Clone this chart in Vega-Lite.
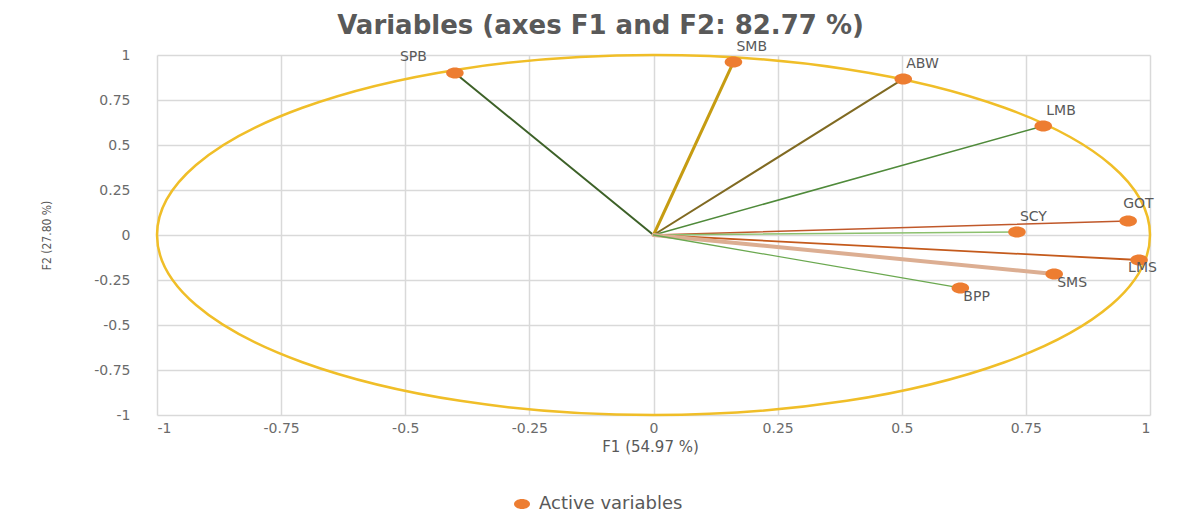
{
  "$schema": "https://vega.github.io/schema/vega-lite/v6.json",
  "autosize": {"type": "none"},
  "width": 993,
  "height": 360,
  "padding": {"left": 157, "top": 55, "right": 51, "bottom": 104},
  "background": "white",
  "title": {
    "text": "Variables (axes F1 and F2: 82.77 %)",
    "anchor": "middle",
    "frame": "group",
    "dx": -53,
    "offset": 1,
    "font": "DejaVu Sans",
    "fontSize": 26,
    "fontWeight": "bold",
    "color": "#595959"
  },
  "config": {
    "view": {"stroke": null},
    "axis": {
      "grid": true,
      "gridColor": "#d9d9d9",
      "gridWidth": 1.5,
      "domain": false,
      "ticks": false,
      "labelFont": "DejaVu Sans",
      "labelFontSize": 14,
      "labelColor": "#6b6b6b",
      "titleFontWeight": "normal",
      "titleColor": "#595959"
    }
  },
  "datasets": {
    "vars": [
      {"label": "SPB", "F1": -0.40, "F2": 0.90},
      {"label": "SMB", "F1": 0.161, "F2": 0.961},
      {"label": "ABW", "F1": 0.503, "F2": 0.867},
      {"label": "LMB", "F1": 0.785, "F2": 0.606},
      {"label": "GOT", "F1": 0.956, "F2": 0.078},
      {"label": "SCY", "F1": 0.732, "F2": 0.017},
      {"label": "LMS", "F1": 0.978, "F2": -0.139},
      {"label": "SMS", "F1": 0.807, "F2": -0.217},
      {"label": "BPP", "F1": 0.618, "F2": -0.294}
    ]
  },
  "data": {"name": "vars"},
  "layer": [
    {
      "mark": {"type": "rule", "strokeCap": "round"},
      "encoding": {
        "x": {
          "field": "F1", "type": "quantitative",
          "scale": {"domain": [-1, 1], "nice": false, "zero": false},
          "axis": {
            "values": [-1, -0.75, -0.5, -0.25, 0, 0.25, 0.5, 0.75, 1],
            "labelExpr": "'' + datum.value",
            "labelPadding": 6,
            "title": "F1 (54.97 %)",
            "titleFont": "DejaVu Sans",
            "titleFontSize": 15,
            "titleX": 493,
            "titleY": 31,
            "titleBaseline": "middle"
          }
        },
        "y": {
          "field": "F2", "type": "quantitative",
          "scale": {"domain": [-1, 1], "nice": false, "zero": false},
          "axis": {
            "values": [-1, -0.75, -0.5, -0.25, 0, 0.25, 0.5, 0.75, 1],
            "labelExpr": "'' + datum.value",
            "labelPadding": 27,
            "title": "F2 (27.80 %)",
            "titleFont": "DejaVu Sans Condensed",
            "titleFontSize": 12,
            "titleX": -111,
            "titleY": 180,
            "titleAngle": -90,
            "titleBaseline": "middle",
            "titleAlign": "center"
          }
        },
        "x2": {"datum": 0},
        "y2": {"datum": 0},
        "color": {
          "field": "label", "type": "nominal",
          "scale": {
            "domain": ["SPB", "SMB", "ABW", "LMB", "GOT", "SCY", "LMS", "SMS", "BPP"],
            "range": ["#3d6128", "#c69c12", "#806a22", "#4f8a3a", "#c0582a", "#8cc06e", "#c45a1c", "#dcae92", "#6aa84f"]
          },
          "legend": null
        },
        "strokeWidth": {
          "field": "label", "type": "nominal",
          "scale": {
            "type": "ordinal",
            "domain": ["SPB", "SMB", "ABW", "LMB", "GOT", "SCY", "LMS", "SMS", "BPP"],
            "range": [2, 3, 2, 1.5, 1.5, 1.5, 1.8, 4, 1.3]
          },
          "legend": null
        }
      }
    },
    {
      "data": {"values": [{"origin": 0}]},
      "mark": {
        "type": "point",
        "shape": "M2.7583,0C2.7583,0.5523,1.5234,1,0,1C-1.5234,1,-2.7583,0.5523,-2.7583,0C-2.7583,-0.5523,-1.5234,-1,0,-1C1.5234,-1,2.7583,-0.5523,2.7583,0Z",
        "size": 129600,
        "filled": false,
        "stroke": "#f0be28",
        "strokeWidth": 2.5,
        "opacity": 1
      },
      "encoding": {
        "x": {"field": "origin", "type": "quantitative"},
        "y": {"field": "origin", "type": "quantitative"}
      }
    },
    {
      "mark": {
        "type": "point",
        "shape": "M1.6,0C1.6,0.5523,0.8837,1,0,1C-0.8837,1,-1.6,0.5523,-1.6,0C-1.6,-0.5523,-0.8837,-1,0,-1C0.8837,-1,1.6,-0.5523,1.6,0Z",
        "size": 121,
        "filled": true,
        "opacity": 1
      },
      "encoding": {
        "x": {"field": "F1", "type": "quantitative"},
        "y": {"field": "F2", "type": "quantitative"},
        "fill": {
          "datum": "Active variables",
          "type": "nominal",
          "scale": {"range": ["#ed7d31"]},
          "legend": {
            "orient": "none",
            "legendX": 356,
            "legendY": 440,
            "title": null,
            "padding": 0,
            "symbolType": "M1.6,0C1.6,0.5523,0.8837,1,0,1C-0.8837,1,-1.6,0.5523,-1.6,0C-1.6,-0.5523,-0.8837,-1,0,-1C0.8837,-1,1.6,-0.5523,1.6,0Z",
            "symbolSize": 100,
            "symbolStrokeWidth": 0,
            "labelFont": "DejaVu Sans",
            "labelFontSize": 18,
            "labelColor": "#595959",
            "labelOffset": 8
          }
        }
      }
    },
    {
      "transform": [{"filter": {"field": "label", "oneOf": ["SMB", "ABW", "LMB", "SCY"]}}],
      "mark": {"type": "text", "align": "left", "baseline": "middle", "dx": 3, "dy": -15, "font": "DejaVu Sans", "fontSize": 14, "color": "#595959"},
      "encoding": {
        "x": {"field": "F1", "type": "quantitative"},
        "y": {"field": "F2", "type": "quantitative"},
        "text": {"field": "label", "type": "nominal"}
      }
    },
    {
      "transform": [{"filter": {"field": "label", "oneOf": ["GOT"]}}],
      "mark": {"type": "text", "align": "left", "baseline": "middle", "dx": -5, "dy": -17, "font": "DejaVu Sans", "fontSize": 14, "color": "#595959"},
      "encoding": {
        "x": {"field": "F1", "type": "quantitative"},
        "y": {"field": "F2", "type": "quantitative"},
        "text": {"field": "label", "type": "nominal"}
      }
    },
    {
      "transform": [{"filter": {"field": "label", "oneOf": ["SPB"]}}],
      "mark": {"type": "text", "align": "right", "baseline": "middle", "dx": -28, "dy": -16, "font": "DejaVu Sans", "fontSize": 14, "color": "#595959"},
      "encoding": {
        "x": {"field": "F1", "type": "quantitative"},
        "y": {"field": "F2", "type": "quantitative"},
        "text": {"field": "label", "type": "nominal"}
      }
    },
    {
      "transform": [{"filter": {"field": "label", "oneOf": ["SMS", "BPP"]}}],
      "mark": {"type": "text", "align": "left", "baseline": "middle", "dx": 3, "dy": 9, "font": "DejaVu Sans", "fontSize": 14, "color": "#595959"},
      "encoding": {
        "x": {"field": "F1", "type": "quantitative"},
        "y": {"field": "F2", "type": "quantitative"},
        "text": {"field": "label", "type": "nominal"}
      }
    },
    {
      "transform": [{"filter": {"field": "label", "oneOf": ["LMS"]}}],
      "mark": {"type": "text", "align": "left", "baseline": "middle", "dx": -11, "dy": 8, "font": "DejaVu Sans", "fontSize": 14, "color": "#595959"},
      "encoding": {
        "x": {"field": "F1", "type": "quantitative"},
        "y": {"field": "F2", "type": "quantitative"},
        "text": {"field": "label", "type": "nominal"}
      }
    }
  ]
}
